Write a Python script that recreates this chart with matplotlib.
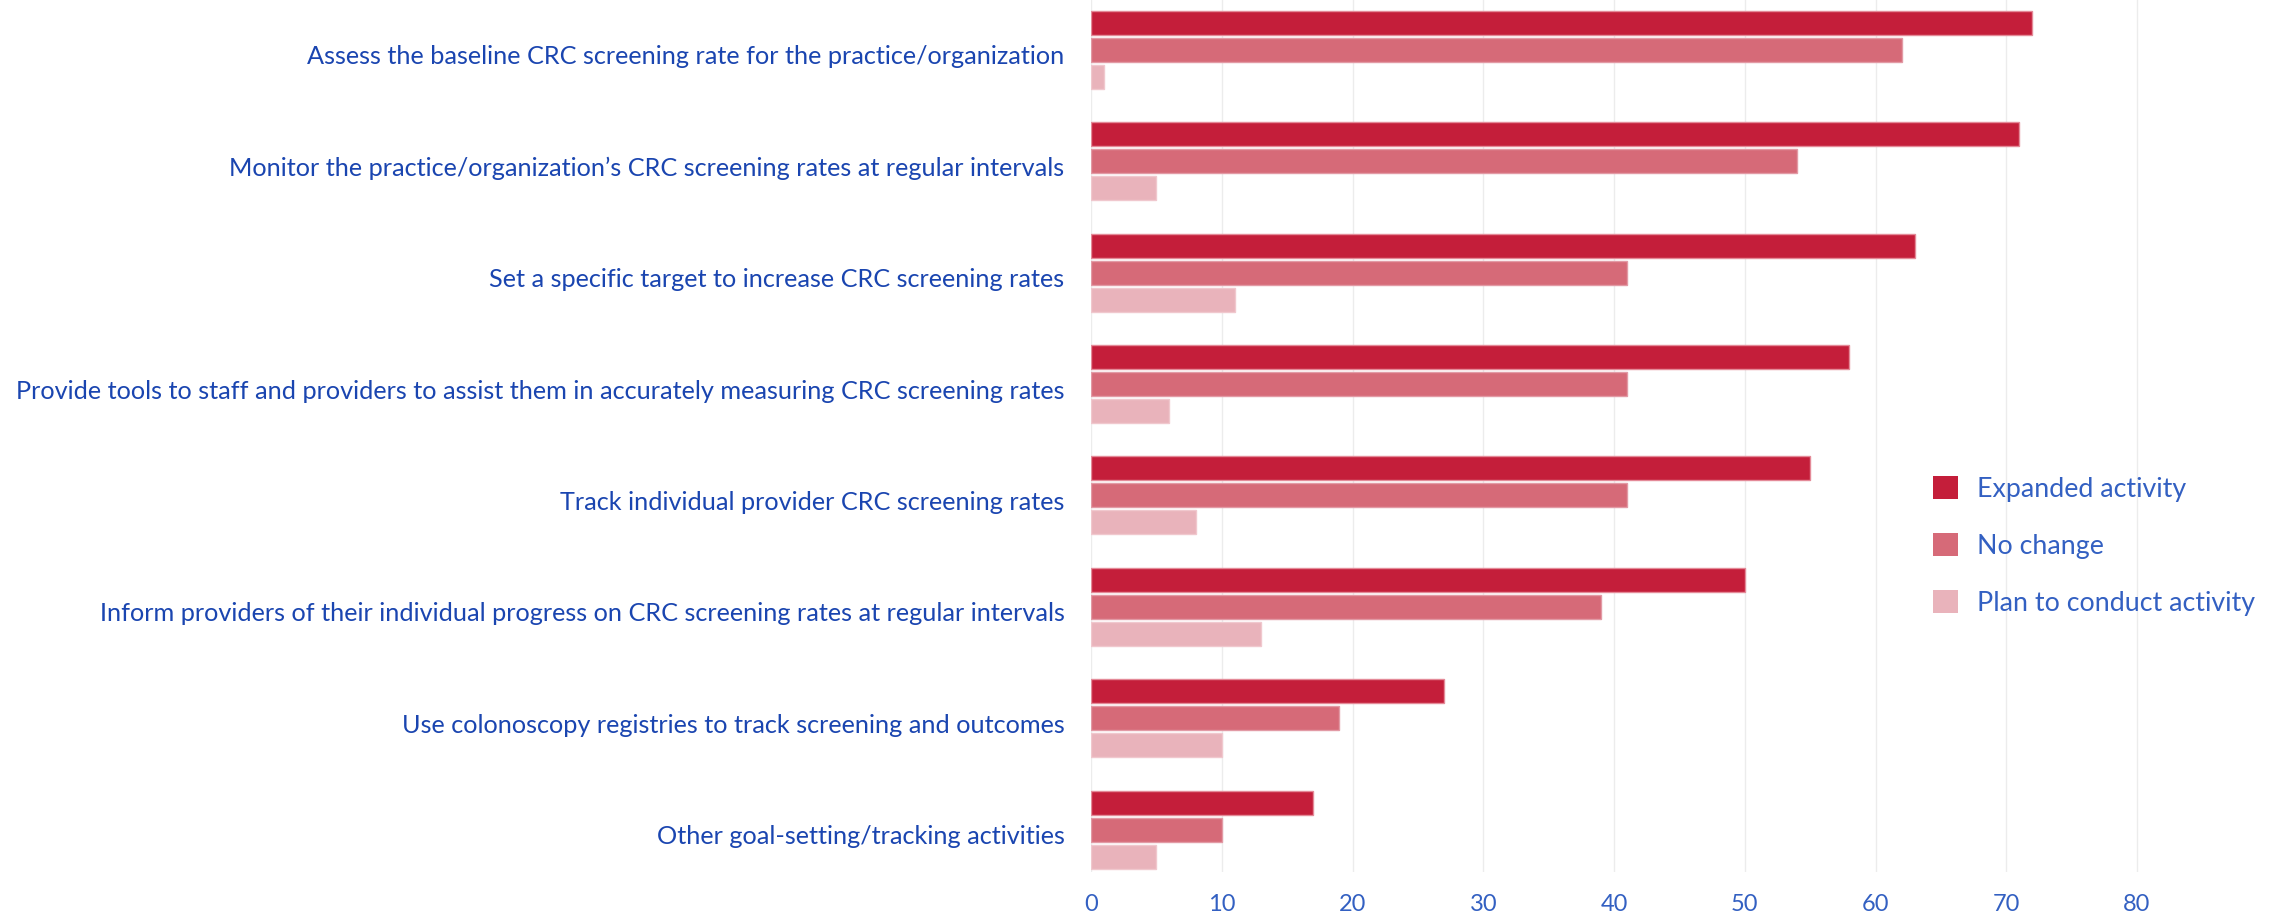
import matplotlib
matplotlib.use("Agg")
import matplotlib.pyplot as plt
from matplotlib.transforms import ScaledTranslation
import numpy as np

categories = [
    "Assess the baseline CRC screening rate for the practice/organization",
    "Monitor the practice/organization\u2019s CRC screening rates at regular intervals",
    "Set a specific target to increase CRC screening rates",
    "Provide tools to staff and providers to assist them in accurately measuring CRC screening rates",
    "Track individual provider CRC screening rates",
    "Inform providers of their individual progress on CRC screening rates at regular intervals",
    "Use colonoscopy registries to track screening and outcomes",
    "Other goal-setting/tracking activities",
]
expanded = [72, 71, 63, 58, 55, 50, 27, 17]
no_change = [62, 54, 41, 41, 41, 39, 19, 10]
plan = [1, 5, 11, 6, 8, 13, 10, 5]
series_names = ["Expanded activity", "No change", "Plan to conduct activity"]
xticks = [0, 10, 20, 30, 40, 50, 60, 70, 80]

colors = ["#C41E3A", "#D66A78", "#E9B3BB"]
edgecolors = ["#E48A98", "#E29AA5", "#F0C8CE"]
label_color = "#1A45B0"
tick_color = "#3360C2"

plt.rcParams['font.family'] = ['Lato', 'DejaVu Sans']

W, H = 2282, 921
fig = plt.figure(figsize=(W / 100, H / 100), dpi=100)

x0_px = 1091
px_per_unit = 13.075
xmax = 85
right_px = x0_px + xmax * px_per_unit
top_px, bottom_px = 0, 872
ax = fig.add_axes([x0_px / W, (H - bottom_px) / H, (right_px - x0_px) / W, (bottom_px - top_px) / H])

c0, spacing = 50, 111.37
ax.set_ylim((bottom_px - c0) / spacing, (top_px - c0) / spacing)
ax.set_xlim(0, xmax)

y = np.arange(len(categories))
offset = 27 / spacing
bh = 24 / spacing
for k, (vals, name) in enumerate(zip([expanded, no_change, plan], series_names)):
    ax.barh(y + (k - 1) * offset, vals, height=bh, color=colors[k],
            edgecolor=edgecolors[k], linewidth=1, label=name, zorder=3)

ax.set_yticks(y)
ax.set_yticklabels(categories, fontsize=18.2, color=label_color)
ax.set_xticks(xticks)
ax.set_xticklabels([str(t) for t in xticks], fontsize=17, color=tick_color)
ax.tick_params(axis='y', length=0, pad=19)
ax.tick_params(axis='x', length=0, pad=16)
shift = ScaledTranslation(0, -5 / 100, fig.dpi_scale_trans)
for lab in ax.get_yticklabels():
    lab.set_transform(lab.get_transform() + shift)
ax.grid(axis='x', color="#ececec", linewidth=1, zorder=0)
ax.set_axisbelow(True)
for s in ax.spines.values():
    s.set_visible(False)

leg = fig.legend(loc='upper left', bbox_to_anchor=(1933 / W, 1 - 476 / H),
                 frameon=False, fontsize=19.3, handlelength=0.93, handleheight=0.93,
                 handletextpad=0.72, labelspacing=1.18, borderpad=0, borderaxespad=0)
for t in leg.get_texts():
    t.set_color(tick_color)
for h in leg.legend_handles:
    h.set_edgecolor("none")

fig.savefig("out.png", dpi=100)
